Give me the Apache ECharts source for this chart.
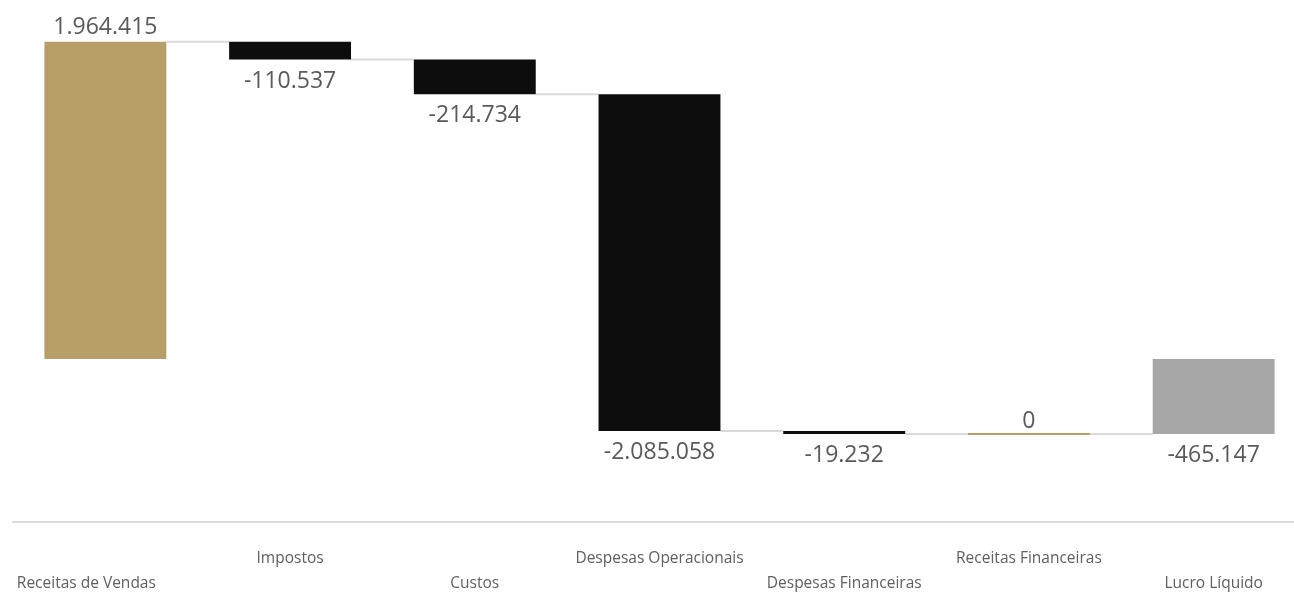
<!DOCTYPE html>
<html>
<head>
<meta charset="utf-8">
<script src="https://cdn.jsdelivr.net/npm/echarts@6/dist/echarts.min.js"></script>
<style>
html,body{margin:0;padding:0;background:#fff;overflow:hidden;}
#main{width:1306px;height:595px;}
</style>
</head>
<body>
<div id="main"></div>
<script>
const categories = ['Receitas de Vendas','Impostos','Custos','Despesas Operacionais','Despesas Financeiras','Receitas Financeiras','Lucro Líquido'];
const values = [1964415, -110537, -214734, -2085058, -19232, 0, -465147];
const kinds = ['increase','decrease','decrease','decrease','decrease','increase','total'];

const colors = { increase: '#B89E68', decrease: '#0D0D0D', total: '#A6A6A6' };

function fmt(v){
  const neg = v < 0;
  const s = Math.abs(Math.round(v)).toString().replace(/\B(?=(\d{3})+(?!\d))/g, '.');
  return (neg ? '-' : '') + s;
}

const data = [];
let cum = 0;
values.forEach((v, i) => {
  let s, e;
  if (kinds[i] === 'total') { s = 0; e = v; cum = v; }
  else { s = cum; e = cum + v; cum = e; }
  data.push([i, s, e, i]);
});

const n = categories.length;
const barRatio = 0.66;

function renderItem(params, api) {
  const i = api.value(0), s = api.value(1), e = api.value(2), idx = api.value(3);
  const hi = Math.max(s, e), lo = Math.min(s, e);
  const pTop = api.coord([i, hi]);
  const pBot = api.coord([i, lo]);
  const bandW = api.size([1, 0])[0];
  const w = bandW * barRatio;
  let y0 = pTop[1], h = pBot[1] - pTop[1];
  if (h < 2) { y0 = y0 - 1; h = 2; }
  const x0 = pTop[0] - w / 2;
  const v = values[idx];
  const kind = kinds[idx];
  const children = [];
  if (idx < n - 1) {
    const py = api.coord([i, e])[1];
    children.push({
      type: 'line',
      shape: { x1: x0 + w, y1: py, x2: x0 + bandW, y2: py },
      style: { stroke: '#DADADA', lineWidth: 2 }
    });
  }
  children.push({
    type: 'rect',
    shape: { x: x0, y: y0, width: w, height: h },
    style: { fill: colors[kind] }
  });
  const above = v >= 0;
  children.push({
    type: 'text',
    x: pTop[0],
    y: above ? y0 - (h <= 2 ? 0 : 3) : y0 + h + 10,
    style: {
      text: fmt(v),
      fill: '#5A5A5A',
      font: '23px "Open Sans", sans-serif',
      align: 'center',
      verticalAlign: above ? 'bottom' : 'top'
    }
  });
  return { type: 'group', children };
}

const labelFont = { fontSize: 15.5, color: '#5F5F5F', fontFamily: '"Open Sans", sans-serif', lineHeight: 22 };

const chart = echarts.init(document.getElementById('main'));
chart.setOption({
  animation: false,
  grid: { left: 13, top: 36, right: 0, height: 486 },
  xAxis: {
    type: 'category',
    data: categories,
    axisLine: { onZero: false, lineStyle: { color: '#DCDCDC', width: 2 } },
    axisTick: { show: false },
    axisLabel: {
      interval: 0,
      margin: 26,
      color: '#5F5F5F',
      fontFamily: '"Open Sans", sans-serif',
      fontSize: 15.5,
      formatter: function (v, i) {
        if (i === 0) return '{first|' + v + '}';
        return i % 2 === 0 ? '{lo|' + v + '}' : '{hi|' + v + '}';
      },
      rich: {
        hi: Object.assign({}, labelFont),
        lo: Object.assign({ padding: [50, 0, 0, 0] }, labelFont),
        first: Object.assign({ padding: [50, 38, 0, 0] }, labelFont)
      }
    },
    splitLine: { show: false }
  },
  yAxis: {
    type: 'value',
    show: false,
    min: -1010000,
    max: 2000000,
    splitLine: { show: false }
  },
  series: [{
    type: 'custom',
    renderItem: renderItem,
    data: data,
    clip: false
  }]
});
</script>
</body>
</html>
